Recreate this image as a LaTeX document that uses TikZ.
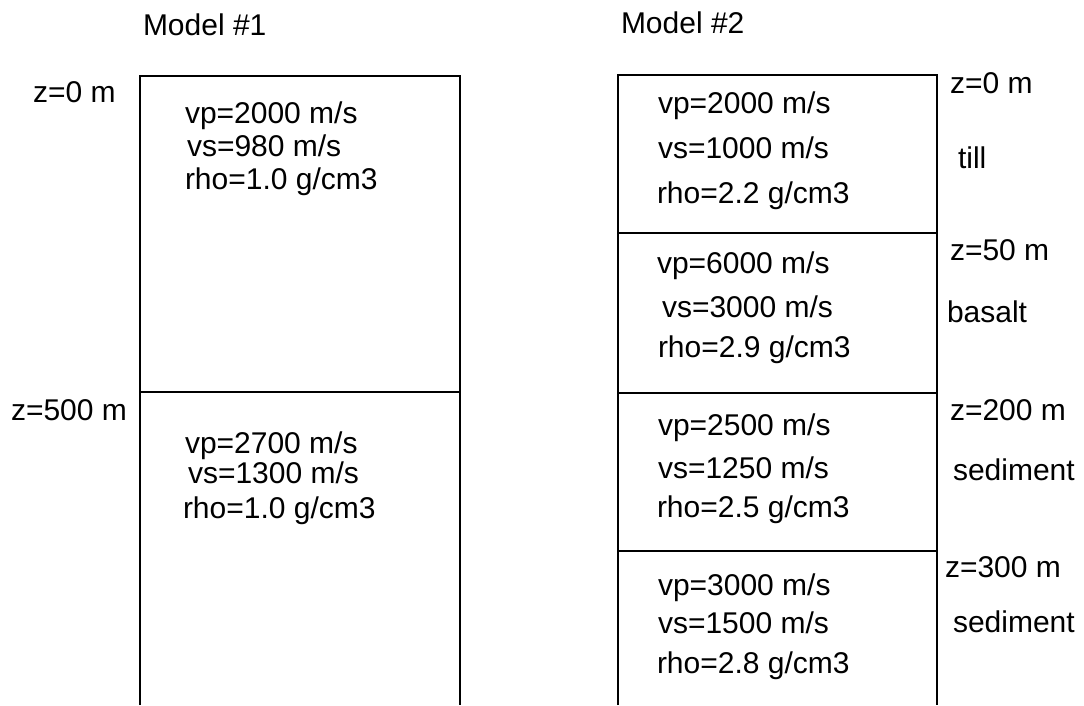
\documentclass[tikz,border=0pt]{standalone}
\usepackage{fontspec}
\setmainfont{Liberation Sans}
\begin{document}
\begin{tikzpicture}[x=1pt,y=-1pt,
  lbl/.style={anchor=base west,inner sep=0pt,outer sep=0pt,font=\fontsize{30}{30}\selectfont},
  layer/.style={line width=1.8pt,black}]
\useasboundingbox (0,0) rectangle (1084,705);
% Model 1 column
\draw[layer] (140,705) -- (140,76) -- (460,76) -- (460,705);
\draw[layer] (140,392) -- (460,392);
% Model 2 column
\draw[layer] (618,705) -- (618,75) -- (937,75) -- (937,705);
\draw[layer] (618,233) -- (937,233);
\draw[layer] (618,393) -- (937,393);
\draw[layer] (618,551) -- (937,551);
% titles
\node[lbl] (t1) at (143,35) {Model \#1};
\node[lbl] (t2) at (621,33) {Model \#2};
% Model 1 labels
\node[lbl] (m1z0) at (33,102) {z=0 m};
\node[lbl] (m1a1) at (185,123) {vp=2000 m/s};
\node[lbl] (m1a2) at (187,156) {vs=980 m/s};
\node[lbl] (m1a3) at (185,189) {rho=1.0 g/cm3};
\node[lbl] (m1z1) at (11,420) {z=500 m};
\node[lbl] (m1b1) at (185,453) {vp=2700 m/s};
\node[lbl] (m1b2) at (188,483) {vs=1300 m/s};
\node[lbl] (m1b3) at (183,518) {rho=1.0 g/cm3};
% Model 2 labels
\node[lbl] (m2a1) at (658,113) {vp=2000 m/s};
\node[lbl] (m2a2) at (658,158) {vs=1000 m/s};
\node[lbl] (m2a3) at (657,203) {rho=2.2 g/cm3};
\node[lbl] (m2z0) at (950,93) {z=0 m};
\node[lbl] (m2r0) at (958,168) {till};
\node[lbl] (m2b1) at (657,273) {vp=6000 m/s};
\node[lbl] (m2b2) at (662,317) {vs=3000 m/s};
\node[lbl] (m2b3) at (658,357) {rho=2.9 g/cm3};
\node[lbl] (m2z1) at (950,260) {z=50 m};
\node[lbl] (m2r1) at (947,322) {basalt};
\node[lbl] (m2c1) at (658,435) {vp=2500 m/s};
\node[lbl] (m2c2) at (658,478) {vs=1250 m/s};
\node[lbl] (m2c3) at (657,517) {rho=2.5 g/cm3};
\node[lbl] (m2z2) at (950,420) {z=200 m};
\node[lbl] (m2r2) at (953,480) {sediment};
\node[lbl] (m2d1) at (658,595) {vp=3000 m/s};
\node[lbl] (m2d2) at (658,633) {vs=1500 m/s};
\node[lbl] (m2d3) at (657,673) {rho=2.8 g/cm3};
\node[lbl] (m2z3) at (945,577) {z=300 m};
\node[lbl] (m2r3) at (953,632) {sediment};
\end{tikzpicture}
\end{document}
